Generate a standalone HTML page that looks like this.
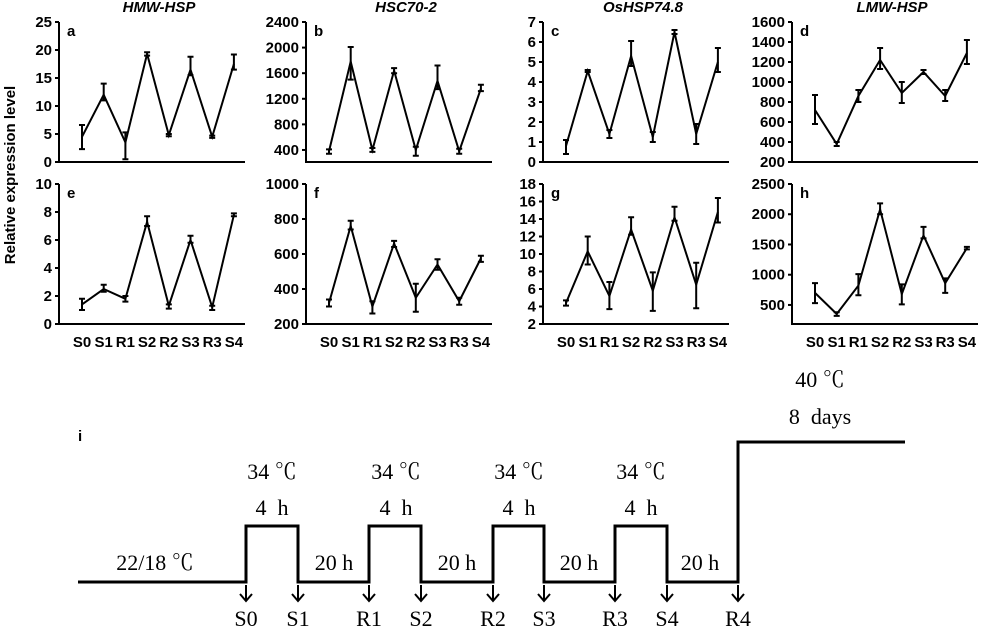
<!DOCTYPE html>
<html><head><meta charset="utf-8"><style>
body{margin:0;background:#fff;width:1000px;height:641px;overflow:hidden}
svg{display:block}
.t{font-family:"Liberation Sans",Arial,sans-serif;font-weight:bold;font-size:15px}
.s{font-family:"Liberation Serif","Noto Serif CJK SC",serif;font-size:22px;white-space:pre}
</style></head><body>
<svg id="g" width="1000" height="641" xmlns="http://www.w3.org/2000/svg">
<text class="t" x="15" y="175" text-anchor="middle" transform="rotate(-90 15 175)" font-size="16">Relative expression level</text>
<g stroke="#000" stroke-width="3" fill="none">
<polyline points="78,582 246,582 246,526 298,526 298,582 369,582 369,526 421,526 421,582 493,582 493,526 544,526 544,582 615,582 615,526 667,526 667,582 738,582 738,442 905,442"/>
</g>
<g id="arr" stroke="#000" stroke-width="2" fill="none"></g>
<g class="s" text-anchor="middle">
<text x="155" y="570">22/18 ℃</text>
<text x="272" y="479">34 ℃</text><text x="272" y="515" xml:space="preserve">4  h</text>
<text x="396" y="479">34 ℃</text><text x="396" y="515" xml:space="preserve">4  h</text>
<text x="519" y="479">34 ℃</text><text x="519" y="515" xml:space="preserve">4  h</text>
<text x="641" y="479">34 ℃</text><text x="641" y="515" xml:space="preserve">4  h</text>
<text x="334" y="570">20 h</text><text x="457" y="570">20 h</text>
<text x="579" y="570">20 h</text><text x="700" y="570">20 h</text>
<text x="820" y="387">40 ℃</text><text x="820" y="424" xml:space="preserve">8  days</text>
<text x="246" y="626">S0</text><text x="298" y="626">S1</text><text x="369" y="626">R1</text>
<text x="421" y="626">S2</text><text x="493" y="626">R2</text><text x="544" y="626">S3</text>
<text x="615" y="626">R3</text><text x="667" y="626">S4</text><text x="738" y="626">R4</text>
</g>
<text class="t" x="78" y="441" font-weight="normal" font-size="16">i</text>
</svg>
<script>
var NS="http://www.w3.org/2000/svg",svg=document.getElementById("g");
function el(n,a,p,txt){var e=document.createElementNS(NS,n);for(var k in a)e.setAttribute(k,a[k]);if(txt!==undefined)e.textContent=txt;(p||svg).appendChild(e);return e;}
var ar=document.getElementById("arr");
[246,298,369,421,493,544,615,667,738].forEach(function(x){el("path",{d:"M"+x+" 585V601M"+(x-6)+" 594L"+x+" 601L"+(x+6)+" 594"},ar);});
var P=[
{ax:59,top:22,bot:162,v0:0,v1:25,tk:[0,5,10,15,20,25],L:"a",T:"HMW-HSP",d:[[4.5,2.3,6.6],[12,11,14],[3.5,0.5,5.3],[19.3,19,19.6],[4.8,4.6,5],[16.5,15.5,18.8],[4.5,4.3,4.7],[17.5,16.5,19.2]]},
{ax:306,top:22,bot:162,v0:212,v1:2400,tk:[400,800,1200,1600,2000,2400],L:"b",T:"HSC70-2",d:[[380,340,410],[1780,1500,2010],[400,370,430],[1640,1600,1680],[400,310,450],[1480,1350,1720],[380,340,420],[1360,1320,1420]]},
{ax:543,top:22,bot:162,v0:0,v1:7,tk:[0,1,2,3,4,5,6,7],L:"c",T:"OsHSP74.8",d:[[0.8,0.4,1.1],[4.55,4.5,4.6],[1.4,1.2,1.6],[5.3,4.8,6.05],[1.25,1,1.5],[6.5,6.4,6.6],[1.4,0.9,1.9],[5,4.5,5.7]]},
{ax:792,top:22,bot:162,v0:200,v1:1600,tk:[200,400,600,800,1000,1200,1400,1600],L:"d",T:"LMW-HSP",d:[[720,580,870],[380,360,400],[860,800,920],[1220,1130,1340],[890,790,1000],[1100,1080,1120],[860,810,920],[1290,1180,1420]]},
{ax:59,top:184,bot:324,v0:0,v1:10,tk:[0,2,4,6,8,10],L:"e",d:[[1.4,1,1.8],[2.5,2.3,2.8],[1.8,1.6,2],[7.3,7,7.7],[1.3,1.1,1.4],[6,5.8,6.3],[1.2,1,1.3],[7.8,7.7,7.9]]},
{ax:306,top:184,bot:324,v0:200,v1:1000,tk:[200,400,600,800,1000],L:"f",d:[[320,300,340],[760,740,790],[300,260,330],[660,640,675],[350,270,430],[540,510,570],[330,310,350],[575,555,590]]},
{ax:543,top:184,bot:324,v0:2,v1:18,tk:[2,4,6,8,10,12,14,16,18],L:"g",d:[[4.4,4.1,4.7],[10.3,8.8,12],[5.2,3.7,6.8],[12.8,12.2,14.2],[5.8,3.5,7.9],[14.2,13.8,15.4],[6.5,3.8,9],[14.8,13.6,16.4]]},
{ax:792,top:184,bot:324,v0:185,v1:2500,tk:[500,1000,1500,2000,2500],L:"h",d:[[700,530,860],[350,320,380],[820,660,1010],[2080,2000,2180],[680,510,840],[1650,1600,1790],[860,700,940],[1440,1420,1460]]}
];
var lab=["S0","S1","R1","S2","R2","S3","R3","S4"];
P.forEach(function(p){
 function Y(v){return p.bot-(v-p.v0)/(p.v1-p.v0)*(p.bot-p.top);}
 var g=el("g",{stroke:"#000","stroke-width":"2",fill:"none"});
 el("path",{d:"M"+p.ax+" "+p.top+"V"+p.bot+"H"+(p.ax+186)},g);
 p.tk.forEach(function(t){var y=Y(t);el("path",{d:"M"+(p.ax-4)+" "+y+"H"+p.ax},g);
  el("text",{"class":"t",x:p.ax-7,y:y+5,"text-anchor":"end"},svg,String(t));});
 var pts=[];
 p.d.forEach(function(d,i){var x=p.ax+23+i*21.7;pts.push(x+","+Y(d[0]));
  el("path",{d:"M"+x+" "+Y(d[1])+"V"+Y(d[2])+"M"+(x-3)+" "+Y(d[1])+"h6M"+(x-3)+" "+Y(d[2])+"h6"},g);
  if(p.top>100)el("text",{"class":"t",x:x,y:347,"text-anchor":"middle"},svg,lab[i]);});
 el("polyline",{points:pts.join(" ")},g);
 el("text",{"class":"t",x:p.ax+8,y:p.top+14,"font-size":"18"},svg,p.L);
 if(p.T)el("text",{"class":"t",x:p.ax+100,y:12,"text-anchor":"middle","font-style":"italic","font-size":"14"},svg,p.T);
});
</script>
</body></html>
